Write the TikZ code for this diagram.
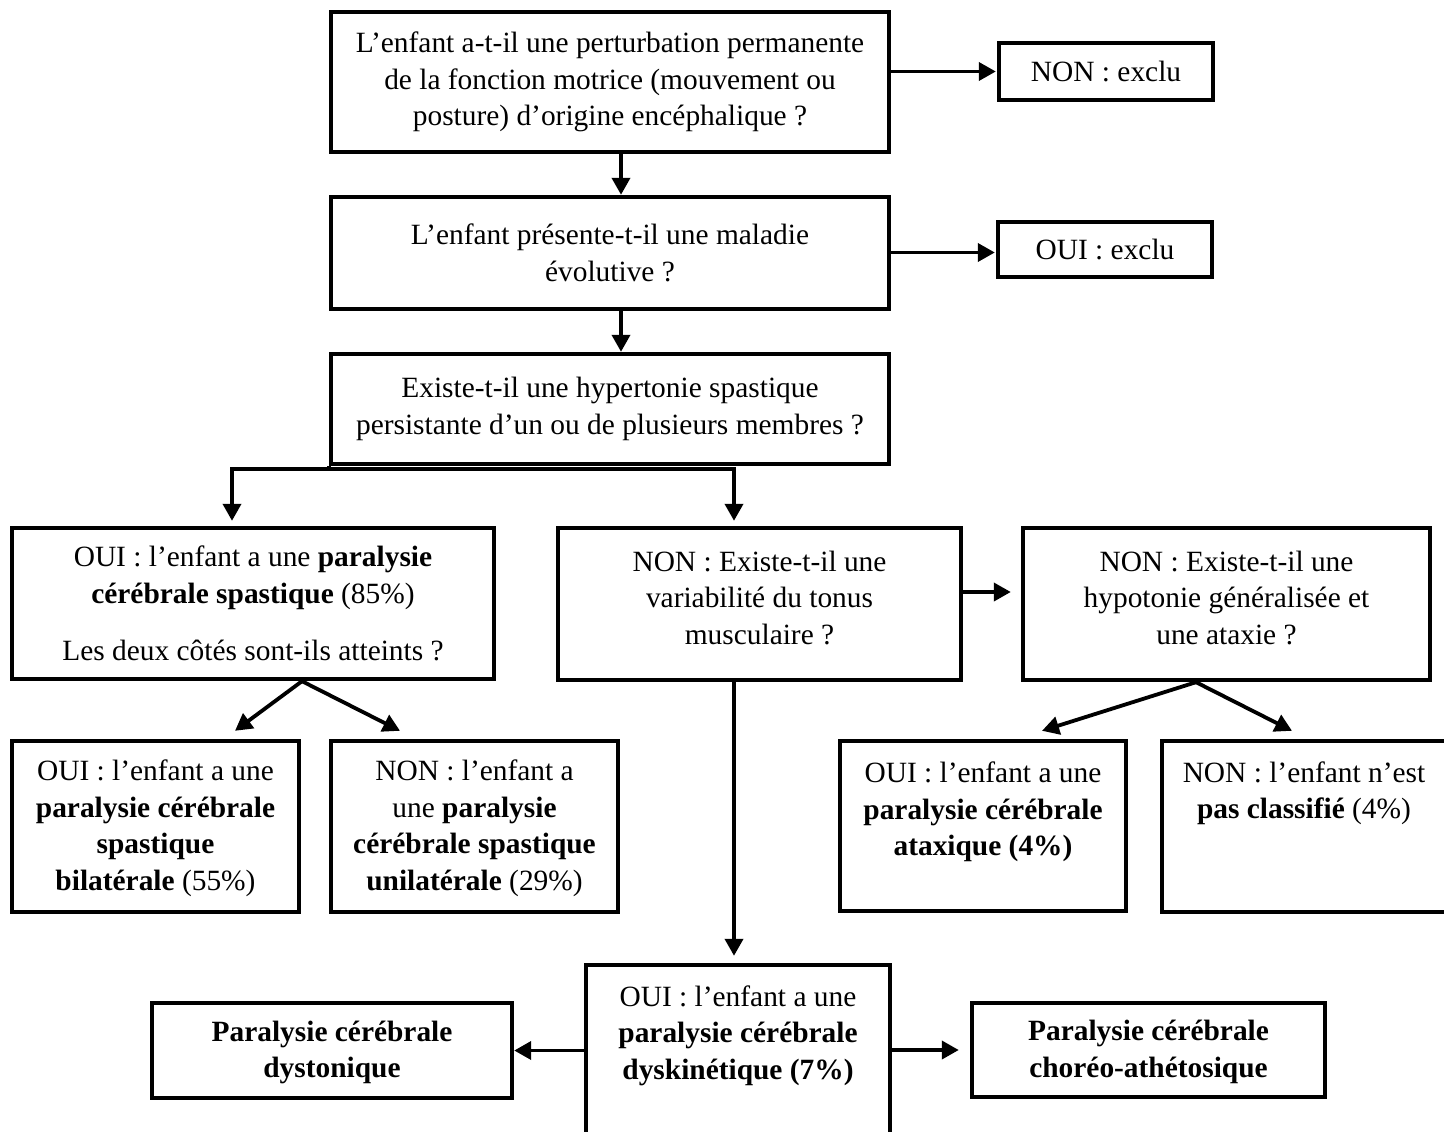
\documentclass[tikz,border=0pt]{standalone}
\usepackage{fontspec}
\setmainfont{Liberation Serif}
\usetikzlibrary{arrows.meta}
\begin{document}
\begin{tikzpicture}[x=1pt,y=-1pt,
  box/.style={draw, line width=4.4pt, inner sep=0pt, rectangle},
  txt/.style={align=center, inner sep=0pt, font=\fontsize{29.4}{36.5}\selectfont},
  arr/.style={line width=3.8pt, -{Triangle[length=17pt,width=18pt]}},
  ln/.style={line width=3.8pt}]
\useasboundingbox (0,0) rectangle (1444,1132);
\clip (0,0) rectangle (1444,1132);
\fill[white] (0,0) rectangle (1444,1132);

% boxes
\node[box, minimum width=558pt, minimum height=140pt] (b1) at (610,82) {};
\node[box, minimum width=214pt, minimum height=57pt] (nonex) at (1106,71.5) {};
\node[box, minimum width=558pt, minimum height=112pt] (b2) at (610,253) {};
\node[box, minimum width=214pt, minimum height=55pt] (ouiex) at (1105,249.5) {};
\node[box, minimum width=558pt, minimum height=110pt] (b3) at (610,409) {};
\node[box, minimum width=482pt, minimum height=151pt] (spas) at (253,603.5) {};
\node[box, minimum width=403pt, minimum height=152pt] (tonus) at (759.5,604) {};
\node[box, minimum width=407pt, minimum height=152pt] (hypo) at (1226.5,604) {};
\node[box, minimum width=287pt, minimum height=171pt] (bila) at (155.5,826.5) {};
\node[box, minimum width=287pt, minimum height=171pt] (unila) at (474.5,826.5) {};
\node[box, minimum width=286pt, minimum height=170pt] (atax) at (983,826) {};
\node[box, minimum width=318pt, minimum height=171pt] (noncl) at (1321,826.5) {};
\node[box, minimum width=304pt, minimum height=195pt] (dysk) at (738,1062.5) {};
\node[box, minimum width=360pt, minimum height=95pt] (dyst) at (332,1050.5) {};
\node[box, minimum width=353pt, minimum height=94pt] (chor) at (1148.5,1050) {};

% texts
\node[txt] (t1) at (b1.center) {L’enfant a-t-il une perturbation permanente\\de la fonction motrice (mouvement ou\\posture) d’origine encéphalique ?};
\node[txt] (tnonex) at (nonex.center) {NON : exclu};
\node[txt] (t2) at (b2.center) {L’enfant présente-t-il une maladie\\évolutive ?};
\node[txt] (touiex) at (ouiex.center) {OUI : exclu};
\node[txt] (t3) at (b3.center) {Existe-t-il une hypertonie spastique\\persistante d’un ou de plusieurs membres ?};
\node[txt] (tspas) at (spas.center) {OUI : l’enfant a une \textbf{paralysie}\\\textbf{cérébrale spastique} (85\%)\\[21pt]Les deux côtés sont-ils atteints ?};
\node[txt] (ttonus) at ([yshift=6pt]tonus.center) {NON : Existe-t-il une\\variabilité du tonus\\musculaire ?};
\node[txt] (thypo) at ([yshift=6pt]hypo.center) {NON : Existe-t-il une\\hypotonie généralisée et\\une ataxie ?};
\node[txt] (tbila) at ([yshift=-2pt]bila.center) {OUI : l’enfant a une\\\textbf{paralysie cérébrale}\\\textbf{spastique}\\\textbf{bilatérale} (55\%)};
\node[txt] (tunila) at ([yshift=-2pt]unila.center) {NON : l’enfant a\\une \textbf{paralysie}\\\textbf{cérébrale spastique}\\\textbf{unilatérale} (29\%)};
\node[txt] (tatax) at (983,812) {OUI : l’enfant a une\\\textbf{paralysie cérébrale}\\\textbf{ataxique (4\%)}};
\node[txt] (tnoncl) at (1304,793.5) {NON : l’enfant n’est\\\textbf{pas classifié} (4\%)};
\node[txt] (tdysk) at (738,1035.5) {OUI : l’enfant a une\\\textbf{paralysie cérébrale}\\\textbf{dyskinétique (7\%)}};
\node[txt] (tdyst) at ([yshift=-2pt]dyst.center) {\textbf{Paralysie cérébrale}\\\textbf{dystonique}};
\node[txt] (tchor) at ([yshift=-2pt]chor.center) {\textbf{Paralysie cérébrale}\\\textbf{choréo-athétosique}};

% connectors
\draw[arr, shorten >=1pt] (nonex.west -| b1.east) -- (nonex.west);
\draw[arr] ([xshift=11pt]b1.south) -- ([xshift=11pt]b2.north);
\draw[arr, shorten >=1pt] ([yshift=-3pt]ouiex.west -| b2.east) -- ([yshift=-3pt]ouiex.west);
\draw[arr] ([xshift=11pt]b2.south) -- ([xshift=11pt]b3.north);
\coordinate (j) at ([yshift=-3pt]b3.south west);
\draw[ln] (b3.south west) -- (j);
\draw[arr, shorten >=5pt] (j) -| ([xshift=-21pt]spas.north);
\draw[arr, shorten >=5pt] (j) -| ([xshift=-25.5pt]tonus.north);
\draw[arr, shorten >=10pt] ([yshift=12pt]tonus.east) -- ([yshift=12pt]hypo.west);
\coordinate (s1) at ([xshift=49pt]spas.south);
\draw[arr] (s1) -- ([xshift=79.5pt,yshift=8pt]bila.north);
\draw[arr] (s1) -- ([xshift=-74.5pt,yshift=8pt]unila.north);
\coordinate (s2) at ([xshift=-30.5pt]hypo.south);
\draw[arr] (s2) -- ([xshift=59pt,yshift=8pt]atax.north);
\draw[arr] (s2) -- ([xshift=-29pt,yshift=8pt]noncl.north);
\draw[arr, shorten >=7pt] ([xshift=-25.5pt]tonus.south) -- ([xshift=-25.5pt]tonus.south |- dysk.north);
\draw[arr] (dyst.east -| dysk.west) -- (dyst.east);
\draw[arr, shorten >=11pt] (chor.west -| dysk.east) -- (chor.west);
\end{tikzpicture}
\end{document}
